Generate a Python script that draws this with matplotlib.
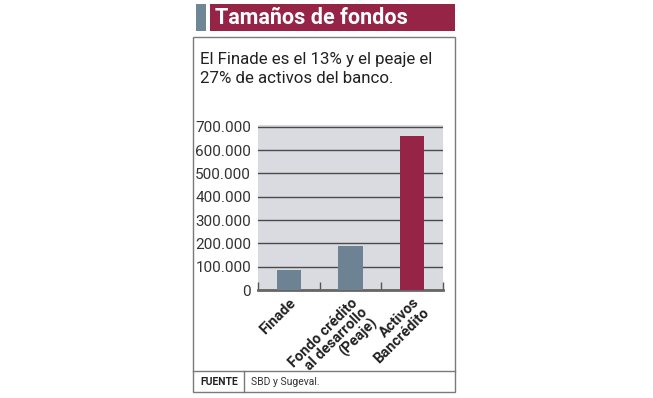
import matplotlib.pyplot as plt
from matplotlib.patches import Rectangle
from matplotlib.lines import Line2D

categories = ['Finade', 'Fondo crédito\nal desarrollo\n(Peaje)', 'Activos\nBancrédito']
values = [87000, 190000, 660000]
bar_colors = ['#6d8394', '#6d8394', '#962447']
yticks = [0, 100000, 200000, 300000, 400000, 500000, 600000, 700000]
ytick_labels = ['0', '100.000', '200.000', '300.000', '400.000', '500.000', '600.000', '700.000']

W, H = 653, 398
plt.rcParams['font.family'] = ['Roboto', 'DejaVu Sans']


def fx(x):
    return x / W


def fy(y):
    return 1 - y / H


fig = plt.figure(figsize=(W / 100, H / 100), dpi=100)

# header
fig.patches.append(Rectangle((fx(196), fy(31)), 10 / W, 27 / H, transform=fig.transFigure,
                             facecolor='#6f8697', edgecolor='none'))
fig.patches.append(Rectangle((fx(210), fy(31)), 245 / W, 27 / H, transform=fig.transFigure,
                             facecolor='#962447', edgecolor='none'))
fig.text(fx(215), fy(18), 'Tamaños de fondos', color='white', fontsize=15.5, fontweight='bold',
         va='center', ha='left')

# box
fig.patches.append(Rectangle((fx(193), fy(392)), 262 / W, 355 / H, transform=fig.transFigure,
                             facecolor='none', edgecolor='#7a7a7a', linewidth=1))
fig.lines.append(Line2D([fx(193), fx(455)], [fy(371), fy(371)], transform=fig.transFigure,
                        color='#7a7a7a', linewidth=1))
fig.lines.append(Line2D([fx(244), fx(244)], [fy(371), fy(392)], transform=fig.transFigure,
                        color='#7a7a7a', linewidth=1))

fig.text(fx(200), fy(69), 'El Finade es el 13% y el peaje el\n27% de activos del banco.',
         fontsize=12.2, color='#222222', va='center', ha='left', linespacing=1.35)

fig.text(fx(200), fy(382), 'FUENTE', fontsize=7.5, fontweight='bold',
         color='#222222', va='center', ha='left')
fig.text(fx(251), fy(382), 'SBD y Sugeval.', fontsize=7.5,
         color='#333333', va='center', ha='left')

# chart
ax = fig.add_axes((fx(258), fy(290), 185 / W, 165 / H))
ax.set_facecolor('#d9dbe0')
x = list(range(len(categories)))
ax.bar(x, values, width=0.4, color=bar_colors, zorder=3)
ax.set_xlim(-0.5, 2.5)
ax.set_ylim(0, 708000)
ax.set_yticks(yticks)
ax.set_yticklabels(ytick_labels)
ax.yaxis.grid(True, color='#4a4a4a', linewidth=1)
ax.set_axisbelow(True)
ax.tick_params(axis='y', length=0, labelsize=11, labelcolor='#333333', pad=5)
ax.set_xticks(x)
ax.set_xticklabels(categories, rotation=45, ha='right', rotation_mode='anchor',
                   multialignment='right', fontsize=10.5, fontweight='bold',
                   color='#222222', linespacing=0.98)
ax.tick_params(axis='x', length=0, pad=4)
ax.set_xticks([-0.5, 0.5, 1.5, 2.5], minor=True)
ax.tick_params(axis='x', which='minor', direction='in', length=6, color='#555555', width=1)
for s in ['top', 'right', 'left']:
    ax.spines[s].set_visible(False)
ax.spines['bottom'].set_color('#666666')
ax.spines['bottom'].set_linewidth(2)

fig.savefig('out.png', dpi=100)
